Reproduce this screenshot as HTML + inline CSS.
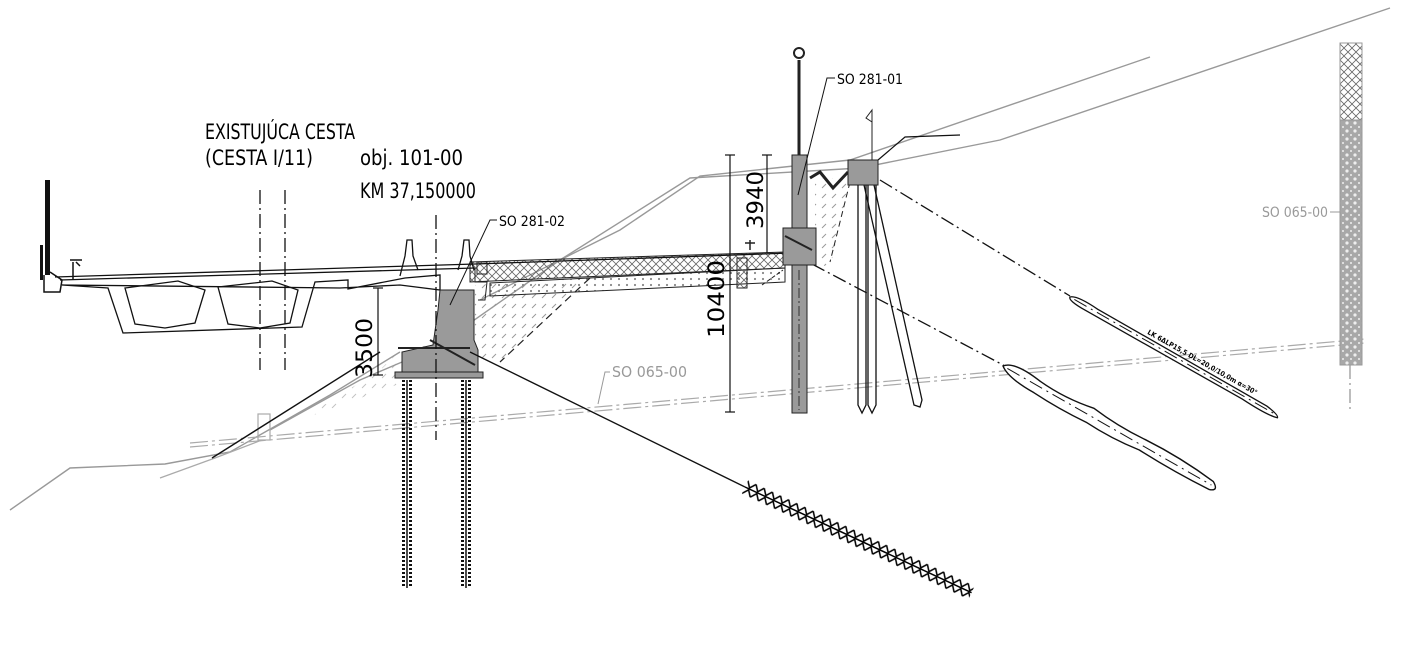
<!DOCTYPE html>
<html><head><meta charset="utf-8"><style>
html,body{margin:0;padding:0;background:#fff;width:1410px;height:656px;overflow:hidden}
svg{display:block}
text{font-family:"DejaVu Sans Condensed","Liberation Sans Narrow","Liberation Sans",sans-serif}
</style></head><body>
<svg width="1410" height="656" viewBox="0 0 1410 656" xmlns="http://www.w3.org/2000/svg">
<defs>
<pattern id="hx" width="8" height="8" patternUnits="userSpaceOnUse"><path d="M0 0L8 8M8 0L0 8" stroke="#666" stroke-width="0.8"/></pattern>
<pattern id="dg" width="10" height="10" patternUnits="userSpaceOnUse"><path d="M2 8L6 4" stroke="#999" stroke-width="1"/></pattern>
<pattern id="dots" width="8" height="6" patternUnits="userSpaceOnUse"><circle cx="3" cy="3" r="1.1" fill="#888"/></pattern>
<pattern id="col" width="8" height="8" patternUnits="userSpaceOnUse"><rect width="8" height="8" fill="#a8a8a8"/><circle cx="3" cy="3" r="1.6" fill="#eee"/><circle cx="7" cy="7" r="1" fill="#eee"/></pattern>
<pattern id="zz" x="0" y="-8" width="9" height="16" patternUnits="userSpaceOnUse"><path d="M0 1L4.5 7L9 1M0 15L4.5 9L9 15" stroke="#000" stroke-width="1.5" fill="none"/></pattern>
</defs>

<g stroke="#999" stroke-width="1.4" fill="none">
<polyline points="10,510 70,468 165,464 230,452 330,395 400,352"/>
<polyline points="460,330 560,260 690,178 860,168 1000,140 1390,8"/>
<polyline points="480,300 620,230 700,176 850,160 1150,57"/>
<polyline points="270,430 360,380 430,350"/>
</g>
<g stroke="#aaa" stroke-width="1.2" fill="none" stroke-dasharray="18,4,3,4">
<line x1="190" y1="443" x2="1365" y2="339"/>
<line x1="190" y1="447" x2="1365" y2="343"/>
</g>
<g stroke="#aaa" stroke-width="1.2" fill="none">
<polyline points="160,478 215,458 262,440"/>
<rect x="258" y="414" width="12" height="26"/>
</g>
<text x="612" y="377" font-size="15" fill="#999" textLength="75" lengthAdjust="spacingAndGlyphs">SO 065-00</text>
<polyline points="598,404 605,372 610,372" stroke="#999" fill="none"/>

<polygon points="475,285 590,278 505,360 475,362" fill="url(#dg)"/>
<polygon points="380,370 400,350 430,345 410,380 300,420" fill="url(#dg)" opacity="0.6"/>
<polygon points="470,262 785,252 785,268 470,282" fill="url(#hx)" stroke="#222" stroke-width="1"/>
<polygon points="490,283 785,268 785,282 490,296" fill="url(#dots)" stroke="#222" stroke-width="1"/>
<line x1="590" y1="278" x2="500" y2="362" stroke="#222" stroke-width="1.2" stroke-dasharray="8,5"/>
<polygon points="815,178 850,178 830,268 815,262" fill="url(#dg)"/>
<line x1="850" y1="182" x2="830" y2="262" stroke="#222" stroke-dasharray="6,4"/>
<polyline points="810,178 820,172 833,188 848,172" stroke="#222" stroke-width="3" fill="none"/>

<g stroke="#111" stroke-width="1.3" fill="none">
<line x1="55" y1="277" x2="475" y2="264"/>
<line x1="60" y1="280" x2="475" y2="268"/>
<polygon points="62,285 108,288 123,333 302,327 315,282 348,280 348,289 405,278 440,275 440,290 400,285 340,288"/>
<polygon points="125,288 178,281 205,290 195,323 165,328 135,324"/>
<polygon points="218,287 272,281 298,290 290,323 260,328 228,324"/>
<path d="M400 276 L405 256 L407 240 L412 240 L413 256 L418 270"/>
<path d="M458 270 L462 256 L464 240 L469 240 L470 256 L474 270"/>
<line x1="475" y1="264" x2="790" y2="253"/>
</g>
<rect x="45" y="180" width="5" height="95" fill="#111"/>
<rect x="40" y="245" width="3" height="35" fill="#111"/>
<path d="M44 275 L44 292 L60 292 L62 280 L50 272" stroke="#111" stroke-width="1.5" fill="none"/>
<path d="M73 262 L73 280 M70 260 L82 260 M76 262 L80 266" stroke="#111" stroke-width="1.5" fill="none"/>

<polygon points="440,290 474,290 474,340 478,350 478,372 402,372 402,352 433,345 438,310" fill="#9a9a9a" stroke="#222"/>
<rect x="395" y="372" width="88" height="6" fill="#999" stroke="#222"/>
<line x1="398" y1="348" x2="470" y2="348" stroke="#222" stroke-width="2"/>
<line x1="430" y1="340" x2="475" y2="365" stroke="#222" stroke-width="2"/>
<polyline points="475,268 475,282 487,282 485,300 478,300" stroke="#222" fill="none"/>
<rect x="477" y="262" width="10" height="12" fill="none" stroke="#222"/>
<g stroke="#111" fill="none">
<line x1="403.5" y1="380" x2="403.5" y2="588" stroke-width="3" stroke-dasharray="2,2"/>
<line x1="410.5" y1="380" x2="410.5" y2="588" stroke-width="3" stroke-dasharray="2,2"/>
<line x1="407" y1="380" x2="407" y2="588" stroke-width="1.5"/>
<line x1="462.5" y1="380" x2="462.5" y2="588" stroke-width="3" stroke-dasharray="2,2"/>
<line x1="469.5" y1="380" x2="469.5" y2="588" stroke-width="3" stroke-dasharray="2,2"/>
<line x1="466" y1="380" x2="466" y2="588" stroke-width="1.5"/>
</g>

<g stroke="#111" stroke-width="1.3" stroke-dasharray="14,4,2,4" fill="none">
<line x1="260" y1="190" x2="260" y2="370"/>
<line x1="285" y1="190" x2="285" y2="370"/>
<line x1="436" y1="215" x2="436" y2="440"/>
<line x1="880" y1="180" x2="1070" y2="296"/>
<line x1="812" y1="264" x2="1005" y2="366"/>
<line x1="1350" y1="365" x2="1350" y2="410" stroke="#999"/>
</g>

<g stroke="#111" stroke-width="1.4" fill="none">
<line x1="212" y1="458" x2="380" y2="352"/>
<line x1="470" y1="352" x2="745" y2="487"/>
</g>
<g transform="translate(745,487) rotate(25)">
<rect x="0" y="-8" width="250" height="16" fill="url(#zz)"/>
<line x1="0" y1="0" x2="250" y2="0" stroke="#000" stroke-width="1.5"/>
</g>

<rect x="792" y="155" width="15" height="258" fill="#9a9a9a" stroke="#222"/>
<rect x="783" y="228" width="33" height="37" fill="#9a9a9a" stroke="#222"/>
<line x1="785" y1="236" x2="812" y2="250" stroke="#222" stroke-width="2"/>
<line x1="799" y1="60" x2="799" y2="155" stroke="#222" stroke-width="3"/>
<circle cx="799" cy="53" r="5" fill="none" stroke="#222" stroke-width="2"/>
<line x1="799" y1="270" x2="799" y2="410" stroke="#333" stroke-dasharray="10,3,2,3"/>
<rect x="848" y="160" width="30" height="25" fill="#9a9a9a" stroke="#222"/>
<path d="M872 160 L872 110 L866 118 L872 122" stroke="#222" fill="none"/>
<polyline points="878,160 905,137 960,135" stroke="#111" fill="none" stroke-width="1.2"/>
<g stroke="#111" stroke-width="1.3" fill="none">
<path d="M858 185 L858 405 L862 413 L866 405 L866 185"/>
<path d="M868 185 L868 405 L872 413 L876 405 L876 185"/>
<path d="M864 185 L914 405 L920 407 L922 400 L874 185"/>
</g>
<rect x="737" y="258" width="10" height="30" fill="url(#hx)" stroke="#222"/>
<path d="M750 250 L750 240 M745 243 L755 243" stroke="#222" stroke-width="1.5"/>
<line x1="762" y1="285" x2="783" y2="270" stroke="#222" stroke-dasharray="4,2"/>

<g transform="translate(1070,297) rotate(29.5)">
<path d="M0 0 Q5 -5 30 -3 L225 -2 Q240 0 240 3 Q230 6 200 4 L20 4 Q0 4 0 0Z" fill="#fff" stroke="#111" stroke-width="1.3"/>
<line x1="5" y1="0" x2="235" y2="1" stroke="#111" stroke-dasharray="14,5,2,5"/>
<text x="85" y="-6" font-size="7" font-weight="bold">LK 6ΔLP15,5 DL=20,0/10,0m α=30°</text>
</g>
<g transform="translate(1003,366) rotate(29.5)">
<path d="M0 0 Q8 -10 40 -5 Q70 -2 100 -8 Q130 -4 160 -6 Q200 -8 240 -3 Q250 3 240 6 Q200 8 160 6 Q130 10 100 8 Q70 10 40 8 Q10 8 0 0Z" fill="#fff" stroke="#111" stroke-width="1.4"/>
<line x1="5" y1="0" x2="240" y2="1" stroke="#111" stroke-dasharray="14,5,2,5"/>
</g>

<rect x="1340" y="43" width="22" height="77" fill="url(#hx)" stroke="#999"/>
<rect x="1340" y="120" width="22" height="245" fill="url(#col)" stroke="#999"/>
<text x="1262" y="217" font-size="14" fill="#999" textLength="66" lengthAdjust="spacingAndGlyphs">SO 065-00</text>
<line x1="1330" y1="212" x2="1340" y2="212" stroke="#999"/>

<g stroke="#111" stroke-width="1.2" fill="none">
<line x1="378" y1="288" x2="378" y2="375"/><line x1="373" y1="288" x2="383" y2="288"/><line x1="373" y1="375" x2="383" y2="375"/>
<line x1="730" y1="155" x2="730" y2="412"/><line x1="725" y1="155" x2="735" y2="155"/><line x1="725" y1="412" x2="735" y2="412"/>
<line x1="767" y1="155" x2="767" y2="253"/><line x1="762" y1="155" x2="772" y2="155"/>
</g>
<text transform="translate(372,378) rotate(-90)" font-size="22" textLength="60" lengthAdjust="spacingAndGlyphs">3500</text>
<text transform="translate(724,338) rotate(-90)" font-size="22" textLength="78" lengthAdjust="spacingAndGlyphs">10400</text>
<text transform="translate(763,229) rotate(-90)" font-size="22" textLength="58" lengthAdjust="spacingAndGlyphs">3940</text>

<polyline points="450,305 490,220 497,220" stroke="#111" fill="none"/>
<text x="499" y="226" font-size="14" textLength="66" lengthAdjust="spacingAndGlyphs">SO 281-02</text>
<polyline points="798,195 827,78 835,78" stroke="#111" fill="none"/>
<text x="837" y="84" font-size="14" textLength="66" lengthAdjust="spacingAndGlyphs">SO 281-01</text>

<text x="205" y="139" font-size="21" textLength="150" lengthAdjust="spacingAndGlyphs">EXISTUJÚCA CESTA</text>
<text x="205" y="165" font-size="21" textLength="108" lengthAdjust="spacingAndGlyphs">(CESTA I/11)</text>
<text x="360" y="165" font-size="21" textLength="103" lengthAdjust="spacingAndGlyphs">obj. 101-00</text>
<text x="360" y="198" font-size="21" textLength="116" lengthAdjust="spacingAndGlyphs">KM 37,150000</text>
</svg>
</body></html>
